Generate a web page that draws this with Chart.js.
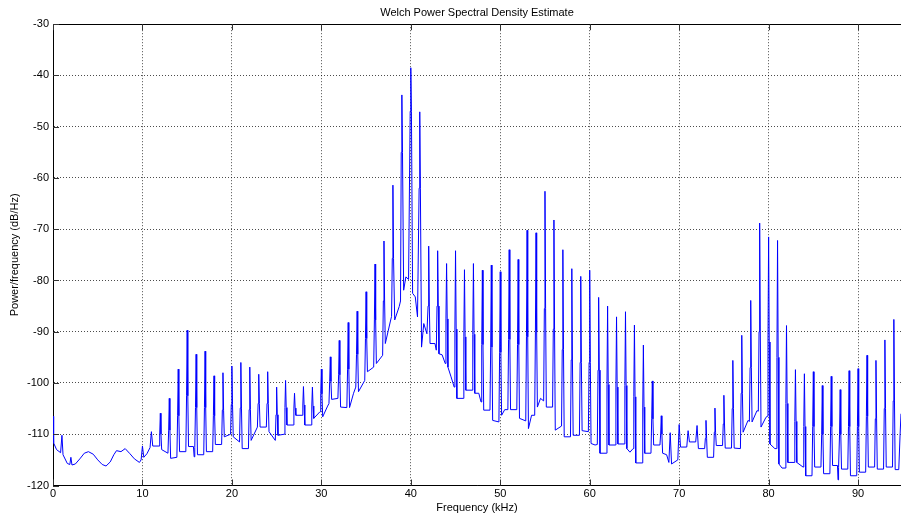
<!DOCTYPE html>
<html>
<head>
<meta charset="utf-8">
<script src="https://cdn.jsdelivr.net/npm/chart.js@4.4.1/dist/chart.umd.min.js"></script>
<style>
html,body{margin:0;padding:0;background:#fff;overflow:hidden}
#wrap{width:901px;height:517px;position:relative}
</style>
</head>
<body>
<div id="wrap"><canvas id="c" width="901" height="517"></canvas></div>
<script>
// ---- chart text ----
const chartTitle = 'Welch Power Spectral Density Estimate';
const xAxisLabel = 'Frequency (kHz)';
const yAxisLabel = 'Power/frequency (dB/Hz)';

// ---- tick values ----
const xTickValues = [0, 10, 20, 30, 40, 50, 60, 70, 80, 90];
const yTickValues = [-120, -110, -100, -90, -80, -70, -60, -50, -40, -30];

// ---- spikes [kHz, peak dB/Hz, shoulder dB/Hz (null = none)] ----
const spikes = [
  [1,-110.2,null],[2,-114.5,null],[10,-112.3,null],[11,-109.5,null],[12,-105.9,-110],
  [13,-103,-109.2],[14,-97.3,-106.4],[15,-89.7,-102.5],[16,-94.4,-104.8],[17,-93.8,-104.8],
  [18,-98.6,-106.4],[19,-98,-105.3],[20,-96.7,-104.2],[21,-96,-104.9],[22,-96.9,-105.2],
  [23,-98.3,-104],[24,-97.8,-104],[25,-100.8,-106.2],[26,-99.5,-104.8],[27,-102,-104.9],
  [28,-100.7,-104.3],[29,-100.8,-104.5],[30,-97.3,-102.1],[31,-94.9,-99.7],[32,-91.7,-98.4],
  [33,-88.2,-97.3],[34,-86,-94.4],[35,-82.2,-91.3],[36,-76.8,-87.7],[37,-72.3,-84],
  [38,-61.4,-75.7],[39,-43.8,-55],[40,-38.5,-47],[41,-47.1,-62],[42,-73.3,-85],
  [43,-74.2,-85],[44,-76.7,-87.5],[45,-74.2,-89.5],[46,-77.9,-91],[47,-76.7,-90.5],
  [48,-78,-92.5],[49,-77,-93],[50,-78.3,-94],[51,-74,-91.5],[52,-75.9,-92.5],
  [53,-70.2,-91],[54,-70.7,-90],[55,-62.6,-85.5],[56,-68.2,-89.5],[57,-74,-93.5],
  [58,-77.7,-95.5],[59,-79.2,-96],[60,-78,-96],[61,-83.3,-97.5],[62,-85,-100.3],
  [63,-87.1,-100.8],[64,-86.1,-100.5],[65,-88.7,-102.7],[66,-92.6,-104.7],[67,-99.6,-107],
  [68,-106.4,-110],[69,-109.7,null],[70,-108.1,null],[71,-109.3,null],[72,-108.3,null],
  [73,-107.3,-110.8],[74,-104.9,-109.6],[75,-102.4,-108],[76,-95.6,-105],[77,-90.7,-102],
  [78,-83.9,-97],[79,-68.8,-90],[80,-71.5,-92],[81,-72.2,-95],[82,-88.8,-104],
  [83,-97.4,-107.5],[84,-98.2,-108.5],[85,-97.8,-108.5],[86,-100.5,-110],[87,-98.7,-108.5],
  [88,-101.3,-110],[89,-97.6,-108.5],[90,-97.2,-108.5],[91,-94.6,-106.5],[92,-95.6,-107],
  [93,-91.6,-105],[94,-87.6,-103.5]
];

// ---- noise floor between spikes [kHz, dB/Hz] ----
const floorPoints = [
  [0,-106.5],[0.07,-111.7],[0.4,-113],[0.85,-113.6],[1.12,-114],[1.6,-115.7],[1.88,-115.9],
  [2.12,-116],[2.5,-115.8],[3,-114.8],[3.5,-113.7],[3.96,-113.4],[4.5,-113.9],[5,-115],
  [5.5,-115.9],[5.93,-116.2],[6.4,-115.4],[6.8,-114],[7.1,-113.2],[7.6,-113.4],[8.07,-112.8],
  [8.6,-113.8],[9.1,-114.8],[9.66,-115.5],[9.85,-115],
  [10.15,-114.5],[10.5,-113.8],[10.85,-112.6],
  [11.15,-112.3],[11.85,-112.3],
  [12.15,-113],[12.85,-113.7],
  [13.15,-114.7],[13.85,-114.5],
  [14.15,-113.4],[14.85,-113.4],
  [15.15,-112.4],[15.7,-112.4],[15.78,-114.4],[15.85,-112.6],
  [16.15,-114],[16.85,-114],
  [17.15,-113.4],[17.85,-113.4],
  [18.15,-112],[18.85,-112],
  [19.15,-110.5],[19.85,-110],
  [20.15,-110.5],[20.85,-111.5],
  [21.15,-112.8],[21.85,-112.8],
  [22.15,-111.2],[22.85,-108.6],
  [23.15,-108.6],[23.85,-108.6],
  [24.15,-109.5],[24.85,-111.2],
  [25.15,-110.2],[25.85,-110],
  [26.15,-108.2],[26.85,-108.2],
  [27.15,-106.3],[27.85,-106.3],
  [28.15,-108.2],[28.85,-108.2],
  [29.15,-106.9],[29.85,-105.6],
  [30.15,-106.6],[30.7,-104.5],[30.85,-104],
  [31.15,-103.2],[31.85,-103],
  [32.15,-104.7],[32.85,-104.8],
  [33.15,-104.8],[33.6,-102],[33.85,-100.8],
  [34.15,-101.7],[34.85,-99.5],
  [35.15,-97.8],[35.85,-96.9],
  [36.15,-96.2],[36.85,-94.6],
  [37.15,-92.3],[37.7,-88.1],[37.85,-87],
  [38.2,-87.7],[38.7,-85.1],[38.85,-84],
  [39.2,-81.9],[39.45,-79.3],[39.75,-79.8],
  [40.2,-82.5],[40.5,-83.2],[40.75,-87.1],
  [41.2,-93],[41.45,-88.4],[41.8,-90.4],
  [42.15,-92.3],[42.7,-92.3],[42.85,-93.6],
  [43.15,-94.3],[43.5,-94.5],[43.85,-96.2],
  [44.15,-96.9],[44.5,-98.8],[44.85,-100.8],
  [45.15,-103],[45.85,-103],
  [46.15,-101.4],[46.85,-101.4],
  [47.15,-102],[47.6,-102],[47.85,-103.7],
  [48.15,-105.3],[48.85,-105.3],
  [49.15,-107.3],[49.85,-107.6],
  [50.15,-106.3],[50.5,-105.2],[50.85,-105.2],
  [51.15,-105.2],[51.85,-105.2],
  [52.15,-106.9],[52.85,-107.4],
  [53.15,-108.9],[53.5,-106.3],[53.85,-106.3],
  [54.15,-104.7],[54.5,-103],[54.85,-103.5],
  [55.15,-104.7],[55.85,-104.7],
  [56.15,-109.2],[56.85,-108.4],
  [57.15,-110.5],[57.85,-110.5],
  [58.15,-110.2],[58.85,-110.2],
  [59.15,-109.3],[59.85,-109.5],
  [60.15,-111.8],[60.6,-112.1],[60.85,-112],
  [61.15,-113.7],[61.85,-113.7],
  [62.15,-112.1],[62.85,-112.1],
  [63.15,-111.9],[63.85,-111.9],
  [64.15,-112.8],[64.5,-113.5],[64.85,-112.8],
  [65.15,-115.6],[65.85,-115.6],
  [66.15,-113.7],[66.85,-113.7],
  [67.15,-112.1],[67.85,-112.1],
  [68.15,-113.7],[68.6,-114],[68.85,-115.5],
  [69.15,-115.8],[69.85,-115],
  [70.15,-112.5],[70.85,-112.5],
  [71.15,-111.5],[71.85,-111.5],
  [72.15,-112.8],[72.85,-112.8],
  [73.15,-114.5],[73.85,-114.5],
  [74.15,-112.2],[74.85,-112.2],
  [75.15,-112.7],[75.85,-112.7],
  [76.15,-112.7],[76.85,-112.8],
  [77.15,-109.6],[77.7,-107.3],[77.85,-107.5],
  [78.15,-107.6],[78.7,-105.4],[78.85,-105.5],
  [79.15,-108.6],[79.7,-106.7],[79.85,-106.5],
  [80.15,-111.9],[80.7,-112.8],[80.85,-112.8],
  [81.15,-115.8],[81.5,-116.6],[81.85,-116.6],
  [82.15,-115.5],[82.85,-115.5],
  [83.15,-115.5],[83.85,-116.4],
  [84.15,-118.1],[84.85,-118.1],
  [85.15,-116.4],[85.85,-116.4],
  [86.15,-117.7],[86.85,-117.7],
  [87.15,-116.1],[87.7,-116.1],[87.76,-118.9],[87.82,-116.5],
  [88.15,-116.8],[88.85,-116.8],
  [89.15,-118.1],[89.85,-118.1],
  [90.15,-117.4],[90.85,-117.4],
  [91.15,-116.4],[91.85,-116.4],
  [92.15,-116.8],[92.85,-116.8],
  [93.15,-116.4],[93.85,-116.4],
  [94.15,-116.9],[94.55,-116.9],[94.7,-110],[94.8,-106]
];

// ---- build the single trace, ordered by frequency ----
const spikeVertices = [];
spikes.forEach(([f, peak, shoulder]) => {
  if (shoulder !== null) spikeVertices.push([f - 0.07, shoulder]);
  spikeVertices.push([f, peak]);
  if (shoulder !== null) spikeVertices.push([f + 0.07, shoulder]);
});
const tracePoints = spikeVertices.concat(floorPoints)
  .map(p => ({x: p[0], y: p[1]}))
  .sort((a, b) => a.x - b.x);

const FONT = "'Liberation Sans', Arial, Helvetica, sans-serif";
Chart.defaults.font.family = FONT;
Chart.defaults.color = '#000';

const framePlugin = {
  id: 'frame',
  afterDraw(chart) {
    const {ctx, chartArea: a, scales: {x, y}} = chart;
    ctx.save();
    ctx.lineWidth = 1;
    ctx.strokeStyle = '#000';
    ctx.beginPath();
    const top = Math.round(a.top) + 0.5;
    ctx.moveTo(a.left, top);
    ctx.lineTo(a.right, top);
    ctx.stroke();
    ctx.strokeStyle = '#333';
    ctx.beginPath();
    xTickValues.forEach(v => {
      const px = Math.round(x.getPixelForValue(v)) + 0.5;
      ctx.moveTo(px, a.bottom); ctx.lineTo(px, a.bottom - 6);
      ctx.moveTo(px, a.top); ctx.lineTo(px, a.top + 6);
    });
    yTickValues.forEach(v => {
      const py = Math.round(y.getPixelForValue(v)) + 0.5;
      ctx.moveTo(a.left, py); ctx.lineTo(a.left + 6, py);
    });
    ctx.stroke();
    ctx.restore();
  }
};

new Chart(document.getElementById('c').getContext('2d'), {
  type: 'line',
  data: {
    datasets: [{
      data: tracePoints,
      borderColor: 'rgb(0,0,255)',
      borderWidth: 1,
      pointRadius: 0,
      tension: 0,
      fill: false
    }]
  },
  options: {
    responsive: false,
    maintainAspectRatio: false,
    animation: false,
    events: [],
    layout: {padding: 0},
    plugins: {
      legend: {display: false},
      tooltip: {enabled: false},
      title: {
        display: true,
        text: chartTitle,
        fullSize: false,
        color: '#000',
        font: {family: FONT, size: 11, weight: 'normal'},
        padding: {top: 6, bottom: 5}
      }
    },
    scales: {
      x: {
        type: 'linear',
        min: 0,
        max: 94.8,
        afterBuildTicks: s => { s.ticks = xTickValues.map(v => ({value: v})); },
        afterFit: s => { s.height = 31.5; },
        ticks: {
          autoSkip: false, maxRotation: 0, padding: 2, color: '#000',
          font: {family: FONT, size: 11},
          callback: v => String(v)
        },
        grid: {color: 'rgba(0,0,0,0.7)', lineWidth: 1, drawTicks: false},
        border: {display: true, color: '#000', width: 1, dash: [1, 2]},
        title: {
          display: true, text: xAxisLabel, color: '#000',
          font: {family: FONT, size: 11}, padding: {top: 0, bottom: 2.4}
        }
      },
      y: {
        type: 'linear',
        min: -120,
        max: -30,
        afterBuildTicks: s => { s.ticks = yTickValues.map(v => ({value: v})); },
        afterFit: s => { s.width = 53; },
        ticks: {
          padding: 4, color: '#000',
          font: {family: FONT, size: 11},
          callback: v => String(v)
        },
        grid: {color: 'rgba(0,0,0,0.7)', lineWidth: 1, drawTicks: false},
        border: {display: true, color: '#000', width: 1, dash: [1, 2]},
        title: {
          display: true, text: yAxisLabel, color: '#000',
          font: {family: FONT, size: 11}, padding: {top: 8.4, bottom: 0}
        }
      }
    }
  },
  plugins: [framePlugin]
});
</script>
</body>
</html>
